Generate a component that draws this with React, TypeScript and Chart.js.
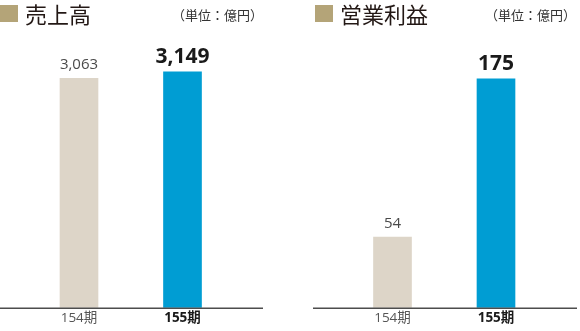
import React, { useEffect, useRef } from "react";
import { Chart, registerables } from "chart.js";

Chart.register(...registerables);

// Fiscal periods shown on both panels
const periods = ["154期", "155期"];
// 売上高 (億円)
const salesValues = [3063, 3149];
// 営業利益 (億円)
const profitValues = [54, 175];

const barColors = ["#ddd5c8", "#009dd3"];
const jpFont = '"Noto Sans CJK JP", "Noto Sans", sans-serif';
const numFont = '"Open Sans", "Noto Sans", sans-serif';
const tickFont = '"Open Sans", "Noto Sans CJK JP", sans-serif';

type PanelProps = {
  values: number[];
  yMax: number;
  padTop: number;
  padLeft: number;
  padRight: number;
  lineFrom: number;
  lineTo: number;
};

// Draws the value above each bar: the latest period is bold and larger
const valueLabels = {
  id: "valueLabels",
  afterDatasetsDraw(chart: any) {
    const { ctx } = chart;
    const meta = chart.getDatasetMeta(0);
    const data = chart.data.datasets[0].data as number[];
    meta.data.forEach((bar: any, i: number) => {
      const last = i === data.length - 1;
      ctx.save();
      ctx.font = last ? `bold 21px ${numFont}` : `15px ${numFont}`;
      ctx.fillStyle = last ? "#1a1a1a" : "#4a4a4a";
      ctx.textAlign = "center";
      ctx.textBaseline = "alphabetic";
      ctx.fillText(data[i].toLocaleString("en-US"), bar.x, bar.y - 9);
      ctx.restore();
    });
  },
};

// Base line running under the bars across the whole panel
const baseLine = {
  id: "baseLine",
  afterDatasetsDraw(chart: any, _args: any, opts: any) {
    const { ctx, chartArea } = chart;
    ctx.save();
    ctx.strokeStyle = "#4d4d4d";
    ctx.lineWidth = 1.5;
    ctx.beginPath();
    ctx.moveTo(opts.from, chartArea.bottom + 0.5);
    ctx.lineTo(opts.to, chartArea.bottom + 0.5);
    ctx.stroke();
    ctx.restore();
  },
};

function BarPanel(props: PanelProps) {
  const ref = useRef<HTMLCanvasElement>(null);
  useEffect(() => {
    if (!ref.current) return;
    const chart = new Chart(ref.current, {
      type: "bar",
      data: {
        labels: periods,
        datasets: [
          {
            data: props.values,
            backgroundColor: barColors,
            barThickness: 38,
          },
        ],
      },
      options: {
        responsive: false,
        animation: false,
        layout: {
          padding: {
            top: props.padTop,
            left: props.padLeft,
            right: props.padRight,
            bottom: 3,
          },
        },
        plugins: {
          legend: { display: false },
          tooltip: { enabled: false },
          baseLine: { from: props.lineFrom, to: props.lineTo },
        } as any,
        scales: {
          x: {
            grid: { display: false, drawTicks: false },
            border: { display: false },
            ticks: {
              padding: 2,
              color: (c: any) => (c.index === 1 ? "#1a1a1a" : "#555555"),
              font: (c: any) => ({
                family: tickFont,
                size: 13.5,
                weight: c.index === 1 ? "bold" : "normal",
              }),
            },
          },
          y: {
            display: false,
            min: 0,
            max: props.yMax,
          },
        },
      },
      plugins: [valueLabels, baseLine],
    });
    return () => chart.destroy();
  }, []);
  return (
    <canvas
      ref={ref}
      width={290}
      height={331}
      style={{ width: 290, height: 331, display: "block" }}
    />
  );
}

function Header(props: { title: string; left: number; unitLeft: number }) {
  return (
    <>
      <div
        style={{
          position: "absolute",
          left: props.left,
          top: 5,
          width: 18,
          height: 17,
          background: "#b4a478",
        }}
      />
      <div
        style={{
          position: "absolute",
          left: props.left + 25,
          top: -2,
          fontFamily: jpFont,
          fontSize: 22,
          lineHeight: "30px",
          color: "#231815",
          whiteSpace: "nowrap",
        }}
      >
        {props.title}
      </div>
      <div
        style={{
          position: "absolute",
          left: props.unitLeft,
          top: 6,
          fontFamily: jpFont,
          fontSize: 13,
          lineHeight: "18px",
          color: "#333333",
          whiteSpace: "nowrap",
        }}
      >
        （単位：億円）
      </div>
    </>
  );
}

export default function App() {
  return (
    <div
      style={{
        position: "absolute",
        left: 0,
        top: 0,
        width: 580,
        height: 331,
        background: "#ffffff",
        overflow: "hidden",
      }}
    >
      <div style={{ position: "absolute", left: 0, top: 0 }}>
        <BarPanel
          values={salesValues}
          yMax={3600}
          padTop={38}
          padLeft={27.25}
          padRight={55.75}
          lineFrom={0}
          lineTo={263}
        />
      </div>
      <div style={{ position: "absolute", left: 290, top: 0 }}>
        <BarPanel
          values={profitValues}
          yMax={200}
          padTop={46}
          padLeft={50.75}
          padRight={32.25}
          lineFrom={23}
          lineTo={287}
        />
      </div>
      <Header title="売上高" left={0} unitLeft={172} />
      <Header title="営業利益" left={315} unitLeft={485} />
    </div>
  );
}
